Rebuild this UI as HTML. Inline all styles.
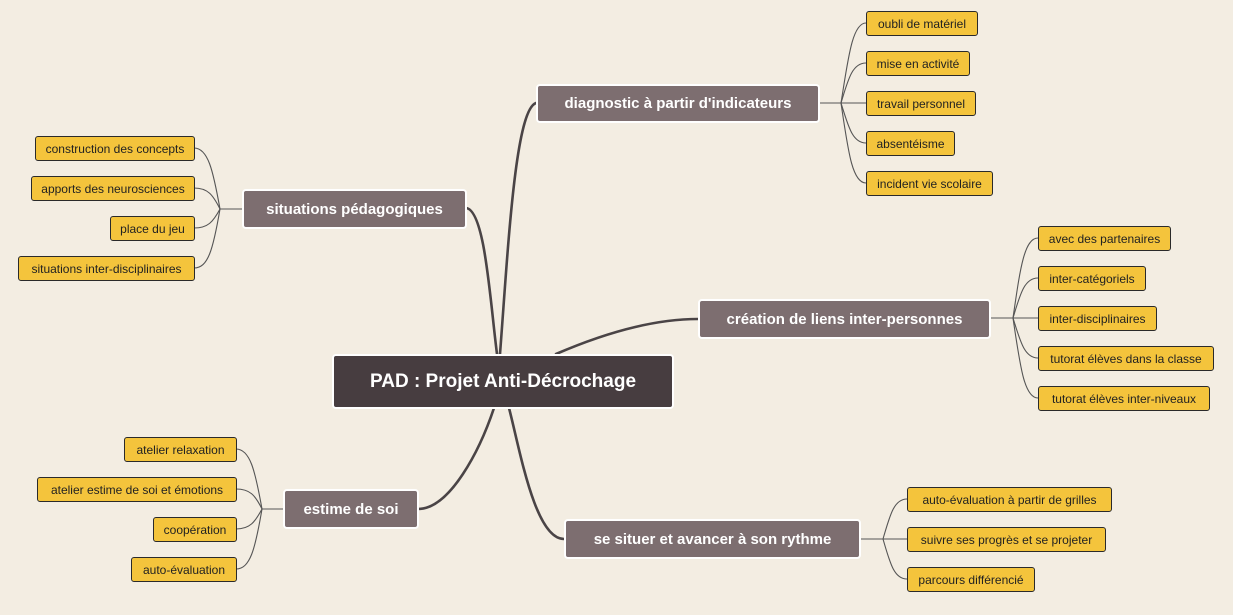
<!DOCTYPE html>
<html><head><meta charset="utf-8"><style>
html,body{margin:0;padding:0}
body{width:1233px;height:615px;background:#f3ede2;position:relative;overflow:hidden;font-family:"Liberation Sans",sans-serif}
.b{position:absolute;box-sizing:border-box;display:flex;align-items:center;justify-content:center;white-space:nowrap}
.c{background:#473d40;border:2px solid #fff;border-radius:4px;color:#fff;font-weight:bold;font-size:19px}
.m{background:#7d6e70;border:2px solid #fff;border-radius:4px;color:#fff;font-weight:bold;font-size:15px}
.l{background:#f4c43c;border:1px solid #2a2a2a;border-radius:3px;color:#222;font-size:12px}
svg{position:absolute;left:0;top:0}
</style></head><body>
<svg width="1233" height="615" fill="none">
<g stroke="#4a4446" stroke-width="2.6" stroke-linecap="round">
<path d="M500 354 C508 250 515 110 536 103"/>
<path d="M497 354 C490 300 485 210 466 208"/>
<path d="M556 354 C600 335 650 319 698 319"/>
<path d="M494 408 C480 450 450 509 418 509"/>
<path d="M509 408 C520 450 535 539 564 539"/>
</g>
<g stroke="#555" stroke-width="1.1">
<path d="M819 103 H841"/>
<path d="M841 103 C848 60 852 23 866 23"/>
<path d="M841 103 C848 80 852 63 866 63"/>
<path d="M841 103 H866"/>
<path d="M841 103 C848 125 852 143 866 143"/>
<path d="M841 103 C848 150 852 183 866 183"/>
<path d="M990 318 H1013"/>
<path d="M1013 318 C1020 270 1024 238 1038 238"/>
<path d="M1013 318 C1020 295 1024 278 1038 278"/>
<path d="M1013 318 H1038"/>
<path d="M1013 318 C1020 340 1024 358 1038 358"/>
<path d="M1013 318 C1020 365 1024 398 1038 398"/>
<path d="M860 539 H883"/>
<path d="M883 539 C890 515 894 499 907 499"/>
<path d="M883 539 H907"/>
<path d="M883 539 C890 563 894 579 907 579"/>
<path d="M242 209 H220"/>
<path d="M220 209 C213 170 208 148 194 148"/>
<path d="M220 209 C213 195 208 188 194 188"/>
<path d="M220 209 C213 222 208 228 194 228"/>
<path d="M220 209 C213 250 208 268 194 268"/>
<path d="M283 509 H262"/>
<path d="M262 509 C255 470 250 449 236 449"/>
<path d="M262 509 C255 495 250 489 236 489"/>
<path d="M262 509 C255 522 250 529 236 529"/>
<path d="M262 509 C255 550 250 569 236 569"/>
</g>
</svg>
<div class="b c" style="left:332px;top:354px;width:342px;height:55px">PAD : Projet Anti-Décrochage</div>
<div class="b m" style="left:536px;top:84px;width:284px;height:39px">diagnostic à partir d'indicateurs</div>
<div class="b m" style="left:242px;top:189px;width:225px;height:40px">situations pédagogiques</div>
<div class="b m" style="left:698px;top:299px;width:293px;height:40px">création de liens inter-personnes</div>
<div class="b m" style="left:283px;top:489px;width:136px;height:40px">estime de soi</div>
<div class="b m" style="left:564px;top:519px;width:297px;height:40px">se situer et avancer à son rythme</div>

<div class="b l" style="left:866px;top:11px;width:112px;height:25px">oubli de matériel</div>
<div class="b l" style="left:866px;top:51px;width:104px;height:25px">mise en activité</div>
<div class="b l" style="left:866px;top:91px;width:110px;height:25px">travail personnel</div>
<div class="b l" style="left:866px;top:131px;width:89px;height:25px">absentéisme</div>
<div class="b l" style="left:866px;top:171px;width:127px;height:25px">incident vie scolaire</div>

<div class="b l" style="left:1038px;top:226px;width:133px;height:25px">avec des partenaires</div>
<div class="b l" style="left:1038px;top:266px;width:108px;height:25px">inter-catégoriels</div>
<div class="b l" style="left:1038px;top:306px;width:119px;height:25px">inter-disciplinaires</div>
<div class="b l" style="left:1038px;top:346px;width:176px;height:25px">tutorat élèves dans la classe</div>
<div class="b l" style="left:1038px;top:386px;width:172px;height:25px">tutorat élèves inter-niveaux</div>

<div class="b l" style="left:907px;top:487px;width:205px;height:25px">auto-évaluation à partir de grilles</div>
<div class="b l" style="left:907px;top:527px;width:199px;height:25px">suivre ses progrès et se projeter</div>
<div class="b l" style="left:907px;top:567px;width:128px;height:25px">parcours différencié</div>

<div class="b l" style="left:35px;top:136px;width:160px;height:25px">construction des concepts</div>
<div class="b l" style="left:31px;top:176px;width:164px;height:25px">apports des neurosciences</div>
<div class="b l" style="left:110px;top:216px;width:85px;height:25px">place du jeu</div>
<div class="b l" style="left:18px;top:256px;width:177px;height:25px">situations inter-disciplinaires</div>

<div class="b l" style="left:124px;top:437px;width:113px;height:25px">atelier relaxation</div>
<div class="b l" style="left:37px;top:477px;width:200px;height:25px">atelier estime de soi et émotions</div>
<div class="b l" style="left:153px;top:517px;width:84px;height:25px">coopération</div>
<div class="b l" style="left:131px;top:557px;width:106px;height:25px">auto-évaluation</div>
</body></html>
